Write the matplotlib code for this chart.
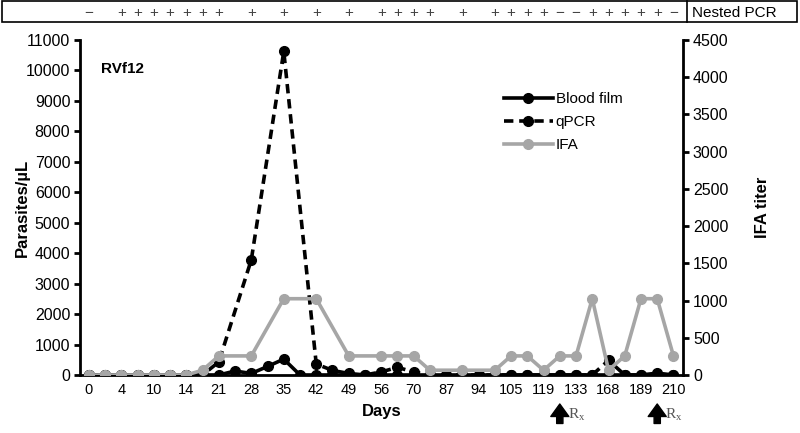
import numpy as np
import matplotlib.pyplot as plt
import matplotlib.transforms as mtransforms
from matplotlib.patches import Rectangle
from matplotlib.lines import Line2D

# x axis is categorical: 37 sampling points, every other one labelled
day_labels = ['0', '4', '10', '14', '21', '28', '35', '42', '49', '56', '70',
              '87', '94', '105', '119', '133', '168', '189', '210']
n = 37
nan = np.nan

blood_film = [0, 0, 0, 0, 0, 0, 0, 0, 0, 130, 50, 280, 520, 0, 0, 0, 0, 0, 0, 0,
              0, 0, 0, 0, 0, 0, 0, 0, 0, 0, 0, 0, 0, 0, 0, 60, 0]
qpcr = [0, 0, 0, 0, 0, 0, 0, 0, 430, nan, 3780, nan, 10620, nan, 360, 150, 50, 0, 100, 250,
        100, 0, 0, 0, 0, 0, 0, 0, 0, 0, 0, 0, 480, 0, 0, 0, 0]
ifa = [0, 0, 0, 0, 0, 0, 0, 64, 256, nan, 256, nan, 1024, nan, 1024, nan, 256, nan, 256, 256,
       256, 64, nan, 64, nan, 64, 256, 256, 64, 256, 256, 1024, 64, 256, 1024, 1024, 256]

pcr_idx = [0, 2, 3, 4, 5, 6, 7, 8, 10, 12, 14, 16, 18, 19, 20, 21, 23, 25, 26, 27, 28,
           29, 30, 31, 32, 33, 34, 35, 36]
pcr_res = ['−'] + ['+'] * 20 + ['−', '−'] + ['+'] * 5 + ['−']

rx_idx = [29, 35]

plt.rcParams['font.family'] = ['Liberation Sans', 'DejaVu Sans']

fig = plt.figure(figsize=(8, 4.33), dpi=100)
ax = fig.add_axes([0.1, 0.134, 0.754, 0.774])
ax2 = ax.twinx()

x = np.arange(n)
grey = '#a6a6a6'

def plot_series(a, vals, **kw):
    v = np.array(vals, dtype=float)
    m = ~np.isnan(v)
    return a.plot(x[m], v[m], marker='o', markersize=7, linewidth=2.6, **kw)[0]

h1 = plot_series(ax, blood_film, color='black', label='Blood film')
h2 = plot_series(ax, qpcr, color='black', linestyle=(0, (2.6, 1.6)), label='qPCR')
h3 = plot_series(ax2, ifa, color=grey, label='IFA', zorder=3)

ax.set_xlim(-0.55, 36.6)
ax.set_ylim(0, 11000)
ax2.set_ylim(0, 4500)
ax.set_yticks(np.arange(0, 11001, 1000))
ax2.set_yticks(np.arange(0, 4501, 500))
ax.set_xticks(np.arange(0, n, 2))
ax.set_xticklabels(day_labels)

for a in (ax, ax2):
    a.spines['top'].set_visible(False)
    for s in a.spines.values():
        s.set_linewidth(2)
    a.tick_params(axis='y', labelsize=11.5, width=2, length=4, pad=3)
ax.spines['right'].set_visible(False)
ax2.spines['left'].set_visible(False)
ax2.spines['bottom'].set_visible(False)
ax.tick_params(axis='x', length=0, labelsize=10.5, pad=6)

ax.set_ylabel('Parasites/µL', fontsize=12, fontweight='bold', labelpad=-3)
ax2.set_ylabel('IFA titer', fontsize=12, fontweight='bold', labelpad=19)
ax.set_xlabel('Days', fontsize=12, fontweight='bold', labelpad=5)
ax.text(0.035, 0.9, 'RVf12', transform=ax.transAxes, fontsize=11, fontweight='bold')

ax2.legend(handles=[h1, h2, h3], loc='upper left', bbox_to_anchor=(0.68, 0.885),
           frameon=False, fontsize=11, handlelength=3.2, handletextpad=0.2, labelspacing=0.6)

# nested PCR strip on top
fig.patches.append(Rectangle((0.002, 0.949), 0.994, 0.049, transform=fig.transFigure,
                             fill=False, linewidth=1.2, edgecolor='black'))
fig.lines.append(Line2D([0.859, 0.859], [0.949, 0.998], transform=fig.transFigure,
                        color='black', linewidth=1.2))
fig.text(0.918, 0.971, 'Nested PCR', ha='center', va='center', fontsize=11)
trans = mtransforms.blended_transform_factory(ax.transData, fig.transFigure)
for i, r in zip(pcr_idx, pcr_res):
    ax.text(i, 0.971, r, transform=trans, ha='center', va='center', fontsize=11, color='#444444')

# treatment arrows
for i in rx_idx:
    ax.annotate('', xy=(i, 0.067), xytext=(i, 0.022), xycoords=trans, textcoords=trans,
                arrowprops=dict(facecolor='black', edgecolor='black', width=4.5, headwidth=13,
                                headlength=9, shrink=0), annotation_clip=False)
    ax.text(i + 0.5, 0.022, r'$\mathregular{R_x}$', transform=trans, fontsize=11,
            family='Liberation Serif', color='#555555', ha='left', va='bottom')

fig.savefig('out.png', dpi=100)
